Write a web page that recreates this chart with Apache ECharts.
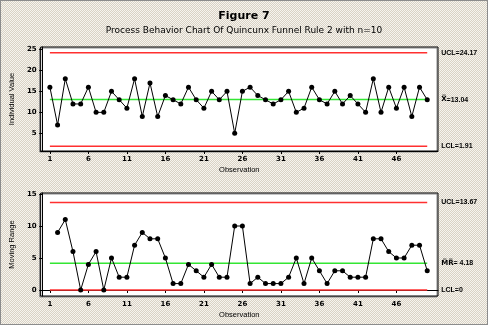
<!DOCTYPE html>
<html><head><meta charset="utf-8">
<script src="https://cdn.jsdelivr.net/npm/echarts@6/dist/echarts.min.js"></script>
<style>
html,body{margin:0;padding:0;}
#c{width:488px;height:325px;background:repeating-conic-gradient(#d9d2c4 0 25%,#f6f4ef 0 50%) 0 0/2px 2px;}
</style></head><body><div id="c"></div>
<script>
const observations = [1,2,3,4,5,6,7,8,9,10,11,12,13,14,15,16,17,18,19,20,21,22,23,24,25,26,27,28,29,30,31,32,33,34,35,36,37,38,39,40,41,42,43,44,45,46,47,48,49,50];
const individualValues = [16,7,18,12,12,16,10,10,15,13,11,18,9,17,9,14,13,12,16,13,11,15,13,15,5,15,16,14,13,12,13,15,10,11,16,13,12,15,12,14,12,10,18,10,16,11,16,9,16,13];
const movingRanges = [null,9,11,6,0,4,6,0,5,2,2,7,9,8,8,5,1,1,4,3,2,4,2,2,10,10,1,2,1,1,1,2,5,1,5,3,1,3,3,2,2,2,8,8,6,5,5,7,7,3];
const xTickValues = [1,6,11,16,21,26,31,36,41,46];
const ivTickValues = [5,10,15,20,25];
const mrTickValues = [0,5,10,15];
const ivLimitNames = ['UCL=24.17','{o|X\u0305}=13.04','LCL=1.91'];
const ivLimitValues = [24.17,13.04,1.91];
const mrLimitNames = ['UCL=13.67','{o|M\u0305R\u0305}= 4.18','LCL=0'];
const mrLimitValues = [13.67,4.18,0];
const limitColors = ['#ff3030','#33e633','#ff3030'];

const chart = echarts.init(document.getElementById('c'));
const first = observations[0], last = observations[observations.length-1];

function xAxisCfg(gi){
  return {
    type:'value', gridIndex:gi, min:-0.2, max:51.4,
    name:'Observation', nameLocation:'middle', nameGap:15,
    nameTextStyle:{fontFamily:'Liberation Sans', fontSize:7.5, color:'#000'},
    axisLine:{show:true, lineStyle:{color:'#000', width:1}},
    axisTick:{show:true, customValues:xTickValues, length:3, lineStyle:{color:'#000'}},
    axisLabel:{customValues:xTickValues, margin:5, fontFamily:'DejaVu Sans', fontWeight:'bold', fontSize:7, color:'#000'},
    splitLine:{show:false}
  };
}
function yAxisCfg(gi,min,max,ticks,name){
  return {
    type:'value', gridIndex:gi, min:min, max:max,
    name:name, nameLocation:'middle', nameGap:20, nameRotate:90,
    nameTextStyle:{fontFamily:'Liberation Sans', fontSize:7.5, color:'#000'},
    axisLine:{show:true, lineStyle:{color:'#000', width:1}},
    axisTick:{show:true, customValues:ticks, length:3, lineStyle:{color:'#000'}},
    axisLabel:{customValues:ticks, margin:4, fontFamily:'DejaVu Sans', fontWeight:'bold', fontSize:7, color:'#000'},
    splitLine:{show:false}
  };
}
function limitSeries(gi,names,values){
  return values.map((v,i)=>({
    type:'line', xAxisIndex:gi, yAxisIndex:gi, silent:true, symbol:'none', z:1,
    data:[[first,v],[last,v]],
    lineStyle:{color:limitColors[i], width:1.5},
    endLabel:{show:true, formatter:names[i], distance:14, fontFamily:'Liberation Sans', fontWeight:'bold', fontSize:7, color:'#000',
      rich:{o:{fontFamily:'DejaVu Sans', fontWeight:'bold', fontSize:7, color:'#000'}}},
    animation:false
  }));
}

const option = {
  animation:false,
  backgroundColor:'transparent',
  title:{
    text:'Figure 7', subtext:'Process Behavior Chart Of Quincunx Funnel Rule 2 with n=10',
    left:'center', top:6, itemGap:4,
    textStyle:{fontFamily:'DejaVu Sans', fontWeight:'bold', fontSize:11, color:'#000'},
    subtextStyle:{fontFamily:'DejaVu Sans', fontSize:9, color:'#000'}
  },
  graphic:[{type:'rect', silent:true, shape:{x:0,y:0,width:488,height:325}, style:{fill:'none', stroke:'#8c8c8c', lineWidth:2}}],
  grid:[
    {left:33, right:50, top:47, height:104, show:true, backgroundColor:'#fff', borderColor:'#000', borderWidth:1, shadowColor:'#8a8a8a', shadowOffsetX:-1, shadowOffsetY:1, shadowBlur:0},
    {left:33, right:50, top:193, height:103, show:true, backgroundColor:'#fff', borderColor:'#000', borderWidth:1, shadowColor:'#8a8a8a', shadowOffsetX:-1, shadowOffsetY:1, shadowBlur:0}
  ],
  xAxis:[xAxisCfg(0), xAxisCfg(1)],
  yAxis:[yAxisCfg(0,0.8,25.56,ivTickValues,'Individual Value'), yAxisCfg(1,-0.94,15.16,mrTickValues,'Moving Range')],
  series:[
    ...limitSeries(0,ivLimitNames,ivLimitValues),
    ...limitSeries(1,mrLimitNames,mrLimitValues),
    {type:'line', xAxisIndex:0, yAxisIndex:0, z:3, data:observations.map((o,i)=>[o,individualValues[i]]),
     symbol:'circle', symbolSize:5, itemStyle:{color:'#000'}, lineStyle:{color:'#000', width:1}},
    {type:'line', xAxisIndex:1, yAxisIndex:1, z:3, data:observations.map((o,i)=>[o,movingRanges[i]]),
     symbol:'circle', symbolSize:5, itemStyle:{color:'#000'}, lineStyle:{color:'#000', width:1}}
  ]
};
chart.setOption(option);
</script></body></html>
